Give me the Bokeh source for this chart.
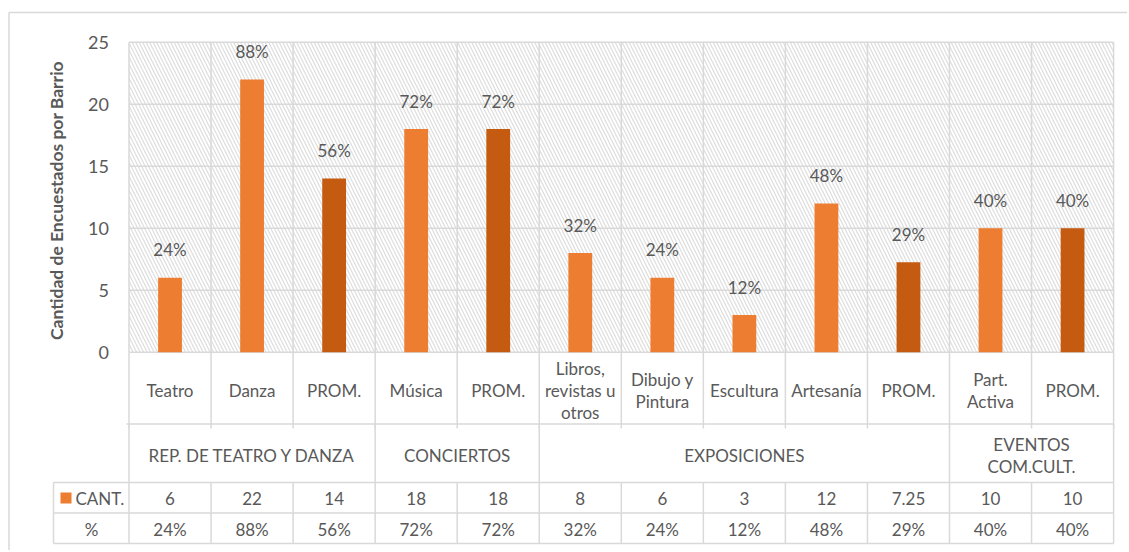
import math
from bokeh.plotting import figure
from bokeh.models import Range1d
from bokeh.core.properties import value
from bokeh.embed import file_html
from bokeh.resources import INLINE

# ---------------- data ----------------
categories = ["Teatro", "Danza", "PROM.", "Música", "PROM.",
              "Libros,\nrevistas u\notros", "Dibujo y\nPintura", "Escultura",
              "Artesanía", "PROM.", "Part.\nActiva", "PROM."]
cant = [6, 22, 14, 18, 18, 8, 6, 3, 12, 7.25, 10, 10]
pct = ["24%", "88%", "56%", "72%", "72%", "32%", "24%", "12%", "48%", "29%", "40%", "40%"]
is_prom = [False, False, True, False, True, False, False, False, False, True, False, True]
groups = ["REP. DE TEATRO Y DANZA", "CONCIERTOS", "EXPOSICIONES", "EVENTOS\nCOM.CULT."]
group_sizes = [3, 2, 5, 2]
y_ticks = [0, 5, 10, 15, 20, 25]
y_title = "Cantidad de Encuestados por Barrio"
series_name = "CANT."
pct_row_name = "%"

# ---------------- layout ----------------
W, H = 1127, 550
CX, CY = 0, 0            # page px of the canvas origin
X0, SX = 128.5, 82.05    # page px of category-axis origin, px per category
Y0, SY = 351.7, 12.4     # page px of value 0, px per unit


def dx(px):
    return (px - X0) / SX


def dy(py):
    return (Y0 - py) / SY


TXT = "#595959"
GRID = "#D9D9D9"
FONT = value("Lato")
FS = "17px"
LH = 1.05
ORANGE = "#ED7D31"
DARK = "#C55A11"

n = len(categories)
ymax = y_ticks[-1]
centers = [i + 0.5 for i in range(n)]

p = figure(width=W, height=H, output_backend="svg", toolbar_location=None,
           x_range=Range1d(dx(CX), dx(CX + W)), y_range=Range1d(dy(CY + H), dy(CY)),
           x_axis_location=None, y_axis_location=None, min_border=0,
           outline_line_color=None, background_fill_color="white",
           border_fill_color="white", title=None)
p.grid.visible = False

# outer chart border
p.segment(x0=[dx(8.5), dx(8.5)], y0=[dy(12), dy(12)], x1=[dx(CX + W + 20), dx(8.5)],
          y1=[dy(12), dy(CY + H + 20)], line_color=GRID, line_width=1.5)

# hatched plot area
p.quad(left=0, right=n, bottom=0, top=ymax, fill_color="white", line_color=None,
       hatch_pattern="\\", hatch_color="#DDDDDD", hatch_scale=7, hatch_weight=1.2)

# gridlines
p.segment(x0=[0] * len(y_ticks), x1=[n] * len(y_ticks), y0=y_ticks, y1=y_ticks,
          line_color=GRID, line_width=1.5)
p.segment(x0=list(range(n + 1)), x1=list(range(n + 1)), y0=[0] * (n + 1),
          y1=[ymax] * (n + 1), line_color=GRID, line_width=1.5)

# bars
colors = [DARK if f else ORANGE for f in is_prom]
p.vbar(x=centers, top=cant, bottom=0, width=0.29, fill_color=colors, line_color=None)

# data labels
p.text(x=centers, y=cant, text=pct, y_offset=-28, text_align="center",
       text_baseline="middle", text_color=TXT, text_font=FONT, text_font_size=FS)

# y tick labels and title
p.text(x=[dx(108.5)] * len(y_ticks), y=y_ticks, text=[str(t) for t in y_ticks],
       text_align="right", text_baseline="middle", text_color=TXT,
       text_font=FONT, text_font_size="18px")
p.text(x=[dx(56)], y=[dy(200)], text=[y_title], angle=math.pi / 2,
       text_align="center", text_baseline="middle", text_color=TXT,
       text_font=FONT, text_font_size="17.5px", text_font_style="bold")

# ---------------- data table ----------------
r_cat, r_grp, r_cnt, r_pct = dy(423.5), dy(482), dy(512.5), dy(543)
leg_x = dx(53)

# category row
p.segment(x0=list(range(n + 1)), x1=list(range(n + 1)), y0=[0] * (n + 1),
          y1=[dy(428)] * (n + 1), line_color=GRID, line_width=1.5)
p.segment(x0=[dx(126)], x1=[n], y0=[r_cat], y1=[r_cat], line_color=GRID, line_width=1.5)
p.text(x=centers, y=[dy(390)] * n, text=categories, text_align="center",
       text_baseline="middle", text_color=TXT, text_font=FONT, text_font_size=FS,
       text_line_height=LH)

# group row
bounds = [0]
for s in group_sizes:
    bounds.append(bounds[-1] + s)
p.segment(x0=bounds, x1=bounds, y0=[r_cat] * len(bounds), y1=[r_grp] * len(bounds),
          line_color=GRID, line_width=1.5)
g_centers = [(bounds[i] + bounds[i + 1]) / 2 for i in range(len(groups))]
p.text(x=g_centers, y=[dy(455)] * len(groups), text=groups, text_align="center",
       text_baseline="middle", text_color=TXT, text_font=FONT, text_font_size=FS,
       text_line_height=LH)

# value rows
p.segment(x0=[leg_x] * 3, x1=[n] * 3, y0=[r_grp, r_cnt, r_pct], y1=[r_grp, r_cnt, r_pct],
          line_color=GRID, line_width=1.5)
vx = [leg_x] + list(range(n + 1))
p.segment(x0=vx, x1=vx, y0=[r_grp] * len(vx), y1=[r_pct] * len(vx),
          line_color=GRID, line_width=1.5)
p.text(x=centers, y=[dy(497.5)] * n, text=[f"{v:g}" for v in cant], text_align="center",
       text_baseline="middle", text_color=TXT, text_font=FONT, text_font_size=FS)
p.text(x=centers, y=[dy(529)] * n, text=pct, text_align="center",
       text_baseline="middle", text_color=TXT, text_font=FONT, text_font_size=FS)

# row headers
p.scatter(x=[dx(65.5)], y=[dy(497.5)], marker="square", size=11, fill_color=ORANGE,
          line_color=None)
p.text(x=[dx(75)], y=[dy(497.5)], text=[series_name], text_align="left",
       text_baseline="middle", text_color=TXT, text_font=FONT, text_font_size=FS)
p.text(x=[dx(91)], y=[dy(529)], text=[pct_row_name], text_align="center",
       text_baseline="middle", text_color=TXT, text_font=FONT, text_font_size=FS)

open("out.html", "w").write(file_html(p, INLINE))
